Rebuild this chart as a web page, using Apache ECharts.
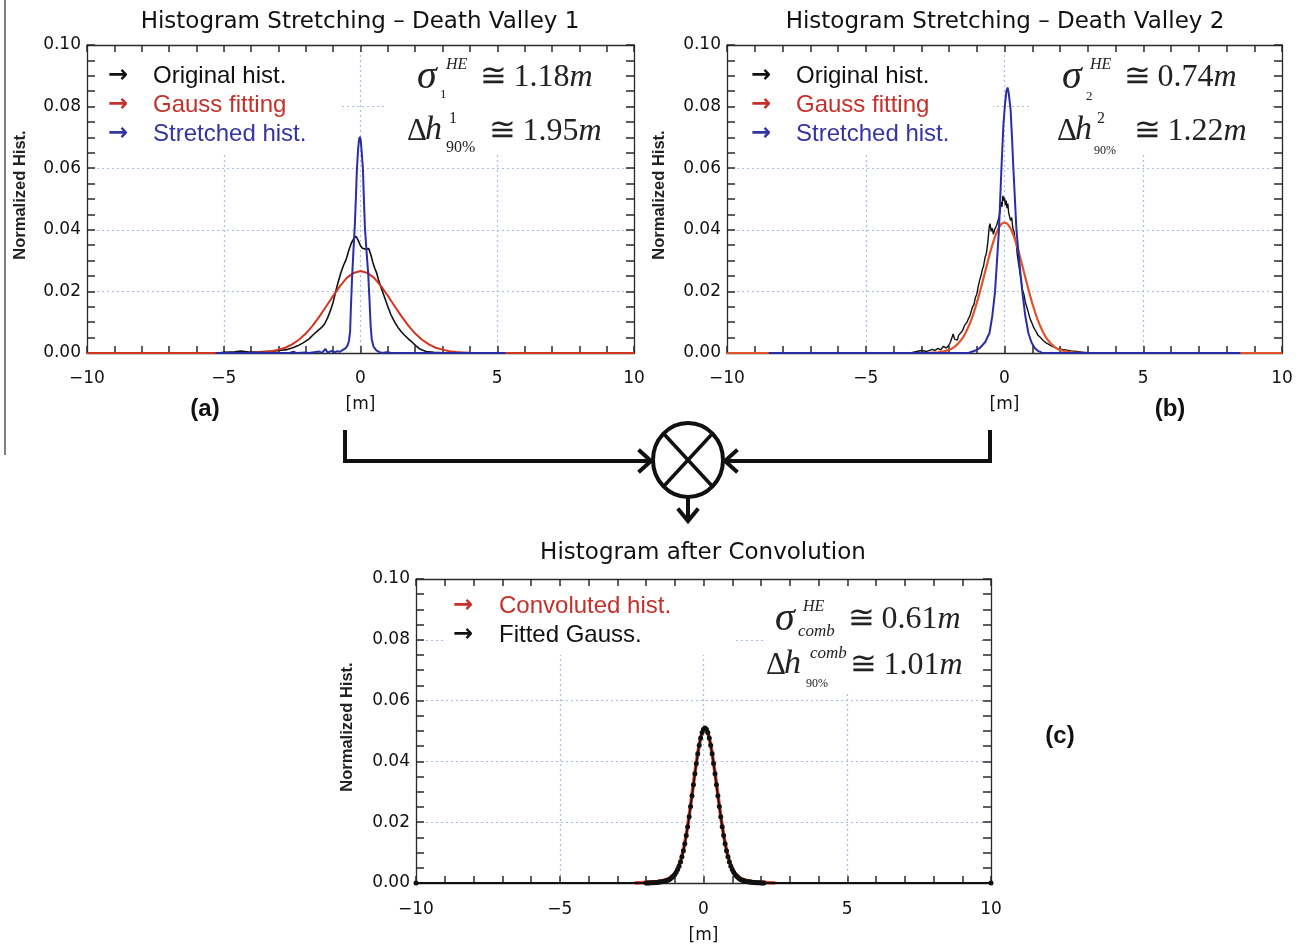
<!DOCTYPE html>
<html><head><meta charset="utf-8">
<script src="https://cdn.jsdelivr.net/npm/echarts@6/dist/echarts.min.js"></script>
<style>html,body{margin:0;padding:0;background:#fff}#c{width:1301px;height:945px}</style>
</head><body><div id="c"></div><script>
// ---------- tick values ----------
const xTicks = [-10, -5, 0, 5, 10];
const yTicks = [0, 0.02, 0.04, 0.06, 0.08, 0.10];

// ---------- panel (a) Death Valley 1 ----------
const aOriginal = [[-10,0],[-5.2,0],[-5.0,0.0002],[-4.6,0.0004],[-4.37,0.0006],[-4.1,0.0003],[-3.7,0.0004],[-3.2,0.0006],[-2.9,0.0009],[-2.68,0.0011],[-2.45,0.0018],[-2.28,0.0024],[-2.1,0.0033],[-1.89,0.0045],[-1.72,0.006],[-1.57,0.0072],[-1.43,0.0082],[-1.31,0.0095],[-1.2,0.0115],[-1.11,0.0135],[-1.0,0.0165],[-0.91,0.0199],[-0.81,0.0232],[-0.72,0.026],[-0.62,0.0285],[-0.52,0.0305],[-0.42,0.0335],[-0.33,0.0358],[-0.24,0.0372],[-0.16,0.0379],[-0.08,0.0365],[0.0,0.0348],[0.07,0.034],[0.15,0.0338],[0.22,0.0342],[0.3,0.0339],[0.38,0.0318],[0.45,0.0295],[0.52,0.0275],[0.59,0.026],[0.66,0.0238],[0.75,0.0213],[0.85,0.0188],[0.98,0.0155],[1.11,0.0125],[1.24,0.0102],[1.37,0.0083],[1.5,0.0068],[1.63,0.0056],[1.76,0.0045],[1.89,0.0035],[2.02,0.0024],[2.15,0.0014],[2.28,0.0009],[2.4,0.0005],[2.68,0.0002],[3.0,0.0001],[3.5,0],[10,0]];
const aGauss = [[-10,0],[-5,0],[-4.5,0.00003],[-4,0.0001],[-3.75,0.0002],[-3.5,0.0003],[-3.25,0.0006],[-3,0.0011],[-2.75,0.0017],[-2.5,0.0028],[-2.25,0.0043],[-2,0.0063],[-1.75,0.0089],[-1.5,0.0119],[-1.25,0.0152],[-1,0.0186],[-0.75,0.0217],[-0.5,0.0244],[-0.25,0.026],[0,0.0266],[0.25,0.026],[0.5,0.0244],[0.75,0.0217],[1,0.0186],[1.25,0.0152],[1.5,0.0119],[1.75,0.0089],[2,0.0063],[2.25,0.0043],[2.5,0.0028],[2.75,0.0017],[3,0.0011],[3.25,0.0006],[3.5,0.0003],[3.75,0.0002],[4,0.0001],[4.5,0.00003],[5,0],[10,0]];
const aStretched = [[-5.3,0],[-2.6,0],[-2.45,0.0004],[-2.35,0],[-2.0,0.0002],[-1.9,0],[-1.5,0.0005],[-1.42,0],[-1.28,0.0013],[-1.2,0.0001],[-1.05,0.0007],[-0.95,0.0002],[-0.85,0.0006],[-0.75,0.0004],[-0.65,0.001],[-0.55,0.0015],[-0.47,0.0025],[-0.42,0.004],[-0.38,0.007],[-0.35,0.015],[-0.31,0.024],[-0.26,0.033],[-0.21,0.041],[-0.17,0.05],[-0.13,0.06],[-0.09,0.066],[-0.05,0.0695],[-0.02,0.0702],[0.01,0.069],[0.05,0.0645],[0.09,0.0595],[0.12,0.051],[0.16,0.041],[0.22,0.033],[0.28,0.026],[0.33,0.017],[0.37,0.009],[0.41,0.0045],[0.48,0.002],[0.59,0.0008],[0.7,0.0003],[0.8,0],[1.0,0.0003],[1.1,0],[5.3,0]];

// ---------- panel (b) Death Valley 2 ----------
const bOriginal = [[-10,0],[-3.4,0],[-3.2,0.0004],[-3.0,0.0008],[-2.8,0.0005],[-2.6,0.0012],[-2.5,0.0008],[-2.4,0.0015],[-2.3,0.001],[-2.2,0.0022],[-2.1,0.0016],[-2.0,0.0026],[-1.95,0.0035],[-1.9,0.003],[-1.85,0.0062],[-1.8,0.0045],[-1.75,0.005],[-1.7,0.0042],[-1.65,0.0058],[-1.6,0.0052],[-1.55,0.0068],[-1.5,0.0075],[-1.45,0.0088],[-1.4,0.0082],[-1.35,0.01],[-1.3,0.0112],[-1.25,0.012],[-1.2,0.0135],[-1.15,0.015],[-1.1,0.0158],[-1.05,0.018],[-1.0,0.019],[-0.95,0.0215],[-0.9,0.0235],[-0.85,0.025],[-0.8,0.027],[-0.75,0.0285],[-0.7,0.031],[-0.65,0.0325],[-0.6,0.036],[-0.55,0.041],[-0.52,0.042],[-0.48,0.0395],[-0.44,0.0405],[-0.4,0.0385],[-0.36,0.04],[-0.32,0.0395],[-0.28,0.0415],[-0.24,0.041],[-0.2,0.044],[-0.16,0.046],[-0.12,0.049],[-0.09,0.0475],[-0.06,0.051],[-0.03,0.0495],[0.0,0.0505],[0.03,0.048],[0.06,0.0495],[0.09,0.047],[0.12,0.0485],[0.15,0.0455],[0.18,0.046],[0.22,0.043],[0.26,0.044],[0.3,0.0405],[0.34,0.0395],[0.38,0.037],[0.42,0.036],[0.46,0.032],[0.5,0.0295],[0.55,0.0265],[0.6,0.0235],[0.65,0.0205],[0.7,0.019],[0.75,0.0165],[0.8,0.015],[0.85,0.0135],[0.9,0.0118],[0.95,0.0105],[1.0,0.0095],[1.05,0.0083],[1.1,0.0075],[1.15,0.0068],[1.2,0.0058],[1.3,0.005],[1.4,0.004],[1.5,0.0033],[1.6,0.0028],[1.7,0.0022],[1.8,0.0018],[1.9,0.0015],[2.0,0.0012],[2.2,0.001],[2.4,0.0007],[2.6,0.0005],[2.8,0.0003],[3.0,0.0001],[3.2,0],[10,0]];
const bGauss = [[-10,0],[-2.8,0],[-2.6,0.0001],[-2.4,0.0002],[-2.2,0.0005],[-2.0,0.001],[-1.9,0.0014],[-1.8,0.002],[-1.7,0.0028],[-1.6,0.0038],[-1.5,0.005],[-1.4,0.0066],[-1.3,0.0085],[-1.2,0.0107],[-1.1,0.0133],[-1.0,0.0162],[-0.9,0.0194],[-0.8,0.0228],[-0.7,0.0263],[-0.6,0.0298],[-0.5,0.0332],[-0.4,0.0362],[-0.3,0.0388],[-0.2,0.0408],[-0.1,0.042],[0,0.0424],[0.1,0.042],[0.2,0.0408],[0.3,0.0388],[0.4,0.0362],[0.5,0.0332],[0.6,0.0298],[0.7,0.0263],[0.8,0.0228],[0.9,0.0194],[1.0,0.0162],[1.1,0.0133],[1.2,0.0107],[1.3,0.0085],[1.4,0.0066],[1.5,0.005],[1.6,0.0038],[1.7,0.0028],[1.8,0.002],[1.9,0.0014],[2.0,0.001],[2.2,0.0005],[2.4,0.0002],[2.6,0.0001],[2.8,0],[10,0]];
const bStretched = [[-8.5,0],[-1.3,0],[-1.05,0.0008],[-0.88,0.0017],[-0.7,0.0035],[-0.54,0.0065],[-0.44,0.012],[-0.34,0.02],[-0.27,0.03],[-0.2,0.04],[-0.11,0.06],[-0.04,0.074],[0.02,0.081],[0.07,0.085],[0.11,0.0862],[0.15,0.0845],[0.22,0.079],[0.27,0.07],[0.32,0.06],[0.43,0.04],[0.54,0.029],[0.64,0.02],[0.75,0.012],[0.86,0.0065],[0.97,0.0035],[1.08,0.0017],[1.2,0.0007],[1.35,0.0001],[1.5,0],[8.5,0]];

// ---------- panel (c) after convolution ----------
const cConvoluted = [[-2.4,0],[-2.2,0.0001],[-2.0,0.0002],[-1.8,0.0003],[-1.6,0.0005],[-1.4,0.0008],[-1.2,0.0014],[-1.0,0.003],[-0.9,0.0047],[-0.8,0.0072],[-0.7,0.0108],[-0.6,0.0158],[-0.5,0.022],[-0.4,0.029],[-0.3,0.0362],[-0.2,0.0427],[-0.1,0.0478],[0.0,0.0506],[0.05,0.051],[0.1,0.0506],[0.2,0.0478],[0.3,0.0427],[0.4,0.0362],[0.5,0.029],[0.6,0.022],[0.7,0.0158],[0.8,0.0108],[0.9,0.0072],[1.0,0.0047],[1.1,0.003],[1.3,0.0014],[1.5,0.0008],[1.7,0.0005],[1.9,0.0003],[2.1,0.0002],[2.3,0.0001],[2.5,0]];
const cFitted = [[-10,0],[-2.0,0],[-1.95,0],[-1.9,0],[-1.85,0.0001],[-1.8,0.0001],[-1.75,0.0001],[-1.7,0.0001],[-1.65,0.0002],[-1.6,0.0002],[-1.55,0.0003],[-1.5,0.0003],[-1.45,0.0004],[-1.4,0.0005],[-1.35,0.0006],[-1.3,0.0007],[-1.25,0.0009],[-1.2,0.0011],[-1.15,0.0014],[-1.1,0.0018],[-1.05,0.0022],[-1.0,0.0028],[-0.95,0.0035],[-0.9,0.0044],[-0.85,0.0055],[-0.8,0.0069],[-0.75,0.0086],[-0.7,0.0106],[-0.65,0.0129],[-0.6,0.0156],[-0.55,0.0185],[-0.5,0.0218],[-0.45,0.0252],[-0.4,0.0287],[-0.35,0.0323],[-0.3,0.0359],[-0.25,0.0393],[-0.2,0.0425],[-0.15,0.0453],[-0.1,0.0477],[-0.05,0.0495],[0.0,0.0506],[0.05,0.051],[0.1,0.0506],[0.15,0.0495],[0.2,0.0477],[0.25,0.0453],[0.3,0.0425],[0.35,0.0393],[0.4,0.0359],[0.45,0.0323],[0.5,0.0287],[0.55,0.0252],[0.6,0.0218],[0.65,0.0185],[0.7,0.0156],[0.75,0.0129],[0.8,0.0106],[0.85,0.0086],[0.9,0.0069],[0.95,0.0055],[1.0,0.0044],[1.05,0.0035],[1.1,0.0028],[1.15,0.0022],[1.2,0.0018],[1.25,0.0014],[1.3,0.0011],[1.35,0.0009],[1.4,0.0007],[1.45,0.0006],[1.5,0.0005],[1.55,0.0004],[1.6,0.0003],[1.65,0.0003],[1.7,0.0002],[1.75,0.0002],[1.8,0.0001],[1.85,0.0001],[1.9,0.0001],[1.95,0.0001],[2.0,0],[2.05,0],[2.1,0],[10,0]];

// ---------- texts ----------
const titles = ['Histogram Stretching \u2013 Death Valley 1', 'Histogram Stretching \u2013 Death Valley 2', 'Histogram after Convolution'];
const legendA = ['Original hist.', 'Gauss fitting', 'Stretched hist.'];
const legendC = ['Convoluted hist.', 'Fitted Gauss.'];

// ---------- layout ----------
const grids = [
  {left: 87, top: 45, width: 547, height: 308},
  {left: 727, top: 45, width: 555, height: 308},
  {left: 416, top: 579, width: 575, height: 304}
];
const AX = '#2a2a2a';
const GRIDC = '#a9bde3';
const LBL = {fontFamily: 'DejaVu Sans', fontSize: 17, color: '#111'};
const xFmt = v => (v < 0 ? '\u2212' + Math.abs(v) : String(v));

function xAx(gi, top) {
  return {
    type: 'value', gridIndex: gi, min: xTicks[0], max: xTicks[xTicks.length - 1], interval: 5,
    position: top ? 'top' : 'bottom',
    name: top ? '' : '[m]', nameLocation: 'middle', nameGap: gi === 2 ? 44 : 43,
    nameTextStyle: {fontFamily: 'DejaVu Sans', fontSize: 17, color: '#111'},
    axisLine: {show: true, onZero: false, lineStyle: {color: AX, width: 1.3}},
    axisTick: {show: true, inside: true, length: 7, lineStyle: {color: AX, width: 1.5}},
    minorTick: {show: true, splitNumber: 5, length: 7, lineStyle: {color: AX, width: 1.5}},
    axisLabel: {show: !top, margin: gi === 2 ? 18 : 17, formatter: xFmt, ...LBL},
    splitLine: {show: !top, lineStyle: {color: GRIDC, type: [2, 3], width: 1.2}}
  };
}
function yAx(gi, right) {
  return {
    type: 'value', gridIndex: gi, min: yTicks[0], max: yTicks[yTicks.length - 1], interval: 0.02,
    position: right ? 'right' : 'left',
    axisLine: {show: true, onZero: false, lineStyle: {color: AX, width: 1.3}},
    axisTick: {show: true, inside: true, length: 8, lineStyle: {color: AX, width: 1.5}},
    minorTick: {show: true, splitNumber: 4, length: 8, lineStyle: {color: AX, width: 1.5}},
    axisLabel: {show: !right, margin: 6, formatter: v => v.toFixed(2), ...LBL},
    splitLine: {show: !right, lineStyle: {color: GRIDC, type: [2, 3], width: 1.2}}
  };
}

function line(data, gi, color, width, z, extra) {
  return Object.assign({
    type: 'line', data: data, xAxisIndex: gi, yAxisIndex: gi, showSymbol: false,
    lineStyle: {color: color, width: width}, itemStyle: {color: color},
    z: z, clip: false, animation: false, silent: true
  }, extra || {});
}

const RED_A = '#d2341f', RED_B = '#e0532a', BLUE = '#2a2ea6', BLACK = '#111';

const series = [
  line(aOriginal, 0, BLACK, 1.6, 2),
  line(aGauss, 0, RED_A, 2, 3),
  line(aStretched, 0, BLUE, 2, 4),
  line(bOriginal, 1, BLACK, 1.4, 2),
  line(bGauss, 1, RED_B, 2.2, 3),
  line(bStretched, 1, BLUE, 2, 4),
  line(cConvoluted, 2, '#e2462a', 3.6, 2),
  line(cFitted, 2, BLACK, 1.8, 3, {showSymbol: true, showAllSymbol: true, symbol: 'circle', symbolSize: 5})
];

// ---------- graphics ----------
const g = [];
function T(x, y, text, o) {
  g.push({type: 'text', x: x, y: y, z: 10, silent: true,
    style: Object.assign({text: text, fill: '#111', fontFamily: 'Liberation Sans', fontSize: 24,
      align: 'left', verticalAlign: 'middle'}, o || {})});
}
function R(x, y, w, h) {
  g.push({type: 'rect', z: 1, silent: true, shape: {x: x, y: y, width: w, height: h}, style: {fill: '#fff'}});
}
function P(points, w) {
  g.push({type: 'polyline', z: 10, silent: true, shape: {points: points},
    style: {stroke: '#111', lineWidth: w || 4, fill: null, lineJoin: 'miter', lineCap: 'square'}});
}

// white boxes behind legends / formulas (hide grid lines)
R(97, 54, 243, 99); R(384, 54, 240, 99);
R(737, 54, 256, 101); R(1031, 54, 240, 101);
R(443, 589, 291, 66); R(764, 589, 217, 104);

// titles
const TF = {align: 'center', fontFamily: 'DejaVu Sans', fontSize: 23};
T(360, 22, titles[0], TF);
T(1005, 22, titles[1], TF);
T(703, 553, titles[2], TF);

// y axis names
const yName = {align: 'center', fontFamily: 'Liberation Sans', fontSize: 16.5, fontWeight: 'bold', fill: '#222', verticalAlign: 'middle'};
[[20, 195], [659, 195], [347, 727]].forEach(p => {
  g.push({type: 'text', x: p[0], y: p[1], rotation: Math.PI / 2, z: 10, silent: true, style: Object.assign({text: 'Normalized Hist.'}, yName)});
});

// legends
const ARW = {fontSize: 24, fontWeight: 'bold', fontFamily: 'DejaVu Sans'};
const legColA = ['#111', '#c4302a', '#3434a2'];
[0, 1, 2].forEach(i => {
  const y = 76 + i * 29;
  T(108, y, '\u2192', Object.assign({fill: legColA[i]}, ARW));
  T(153, y, legendA[i], {fill: legColA[i]});
  T(751, y, '\u2192', Object.assign({fill: legColA[i]}, ARW));
  T(796, y, legendA[i], {fill: legColA[i]});
});
const legColC = ['#c4302a', '#111'];
[0, 1].forEach(i => {
  const y = 606 + i * 29;
  T(453, y, '\u2192', Object.assign({fill: legColC[i]}, ARW));
  T(499, y, legendC[i], {fill: legColC[i]});
});

// formulas
const SER = 'Liberation Serif';
const rich = {
  n: {fontFamily: SER, fontSize: 32, fill: '#222'},
  i: {fontFamily: SER, fontSize: 32, fontStyle: 'italic', fill: '#222'}
};
function F(x, y, parts) { T(x, y, parts, {rich: rich, fontFamily: SER, fontSize: 32, fill: '#222'}); }
function S(x, y, t, size, ital) { T(x, y, t, {fontFamily: SER, fontSize: size, fontStyle: ital ? 'italic' : 'normal', fill: '#222'}); }

// (a)
S(417, 77, '\u03c3', 40, true); S(446, 65, 'HE', 16, true); S(440, 95, '1', 13, false);
F(480, 78, '{n|\u2245\u20091.18}{i|m}');
S(407, 132, '\u0394', 31, false); S(425, 130, 'h', 34, true); S(449, 119, '1', 16, false); S(446, 148, '90%', 16, false);
F(489, 132, '{n|\u2245\u20091.95}{i|m}');
// (b)
S(1062, 77, '\u03c3', 40, true); S(1090, 65, 'HE', 16, true); S(1086, 97, '2', 13, false);
F(1124, 78, '{n|\u2245\u20090.74}{i|m}');
S(1057, 132, '\u0394', 31, false); S(1075, 130, 'h', 34, true); S(1097, 119, '2', 16, false); S(1094, 151, '90%', 12, false);
F(1134, 132, '{n|\u2245\u20091.22}{i|m}');
// (c)
S(775, 619, '\u03c3', 40, true); S(803, 607, 'HE', 16, true); S(798, 632, 'comb', 17, true);
F(848, 620, '{n|\u2245\u20090.61}{i|m}');
S(766, 666, '\u0394', 31, false); S(784, 664, 'h', 34, true); S(810, 654, 'comb', 17, true); S(806, 684, '90%', 12, false);
F(850, 666, '{n|\u2245\u20091.01}{i|m}');

// panel labels
const PL = {align: 'center', fontSize: 24, fontWeight: 'bold', fontFamily: 'Liberation Sans'};
T(205, 409, '(a)', PL);
T(1170, 409, '(b)', PL);
T(1060, 736, '(c)', PL);

// left margin rule
g.push({type: 'line', z: 10, silent: true, shape: {x1: 5, y1: 0, x2: 5, y2: 455}, style: {stroke: '#555', lineWidth: 1.5}});

// combination diagram
P([[345, 432], [345, 461], [650, 461]]);
P([[640, 451], [651, 461], [640, 471]], 4);
P([[990, 432], [990, 461], [727, 461]]);
P([[736, 451], [725, 461], [736, 471]], 4);
g.push({type: 'ellipse', z: 10, silent: true, shape: {cx: 688, cy: 460, rx: 35, ry: 37}, style: {stroke: '#111', lineWidth: 4, fill: '#fff'}});
P([[664, 434], [712, 486]], 3.5);
P([[712, 434], [664, 486]], 3.5);
P([[688, 497], [688, 520]], 4);
P([[679, 510], [688, 521], [697, 510]], 4);

const option = {
  backgroundColor: '#fff',
  animation: false,
  grid: grids.map(q => Object.assign({show: false, containLabel: false}, q)),
  xAxis: [xAx(0, false), xAx(1, false), xAx(2, false), xAx(0, true), xAx(1, true), xAx(2, true)],
  yAxis: [yAx(0, false), yAx(1, false), yAx(2, false), yAx(0, true), yAx(1, true), yAx(2, true)],
  series: series,
  graphic: {elements: g}
};
const chart = echarts.init(document.getElementById('c'));
chart.setOption(option);
</script></body></html>
